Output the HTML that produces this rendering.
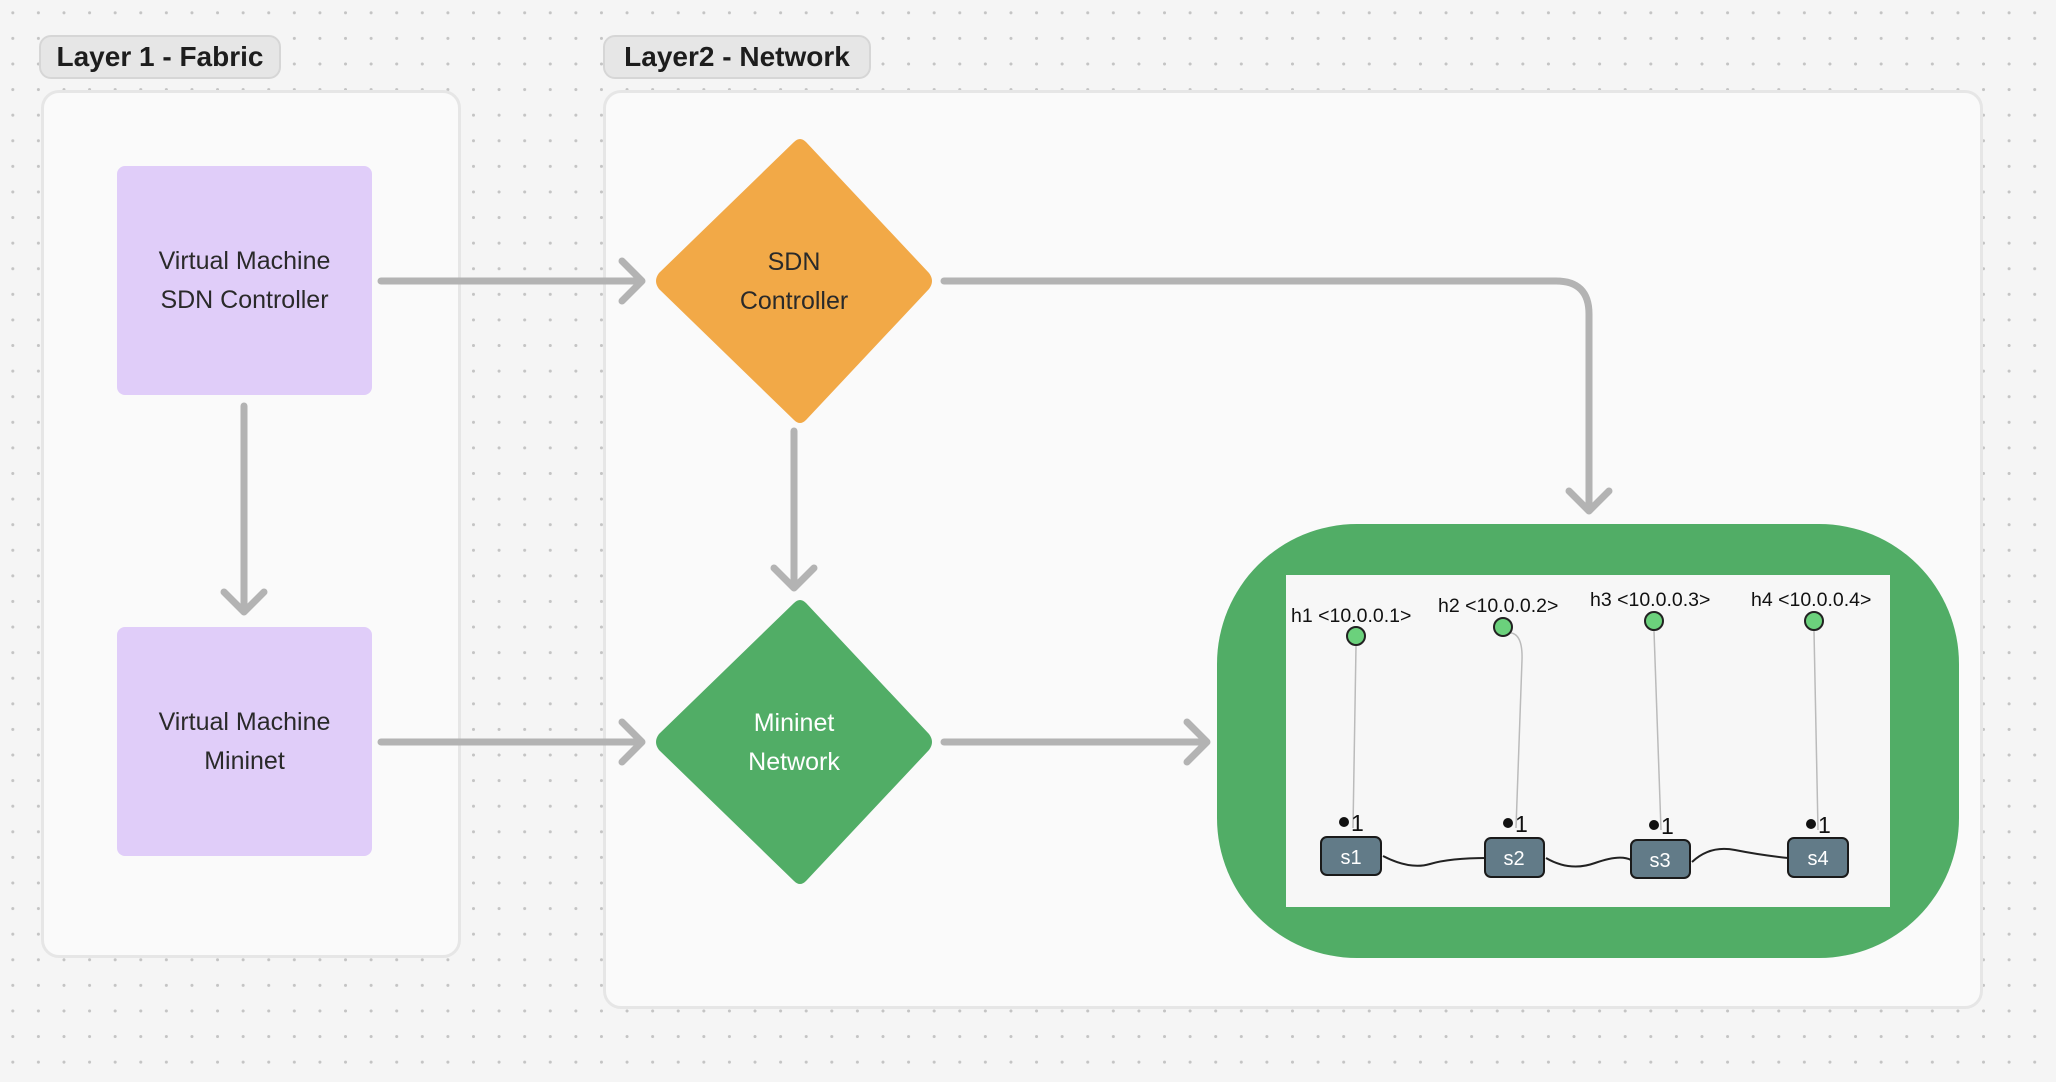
<!DOCTYPE html>
<html><head><meta charset="utf-8"><style>
html,body{margin:0;padding:0}
body{width:2056px;height:1082px;overflow:hidden;background-color:#f5f5f5;
background-image:radial-gradient(circle,#c4c4c4 1.4px,transparent 1.6px);background-size:25.6px 25.6px;background-position:0px 0px;
font-family:"Liberation Sans",sans-serif;position:relative}
.abs{position:absolute}
.lbl{position:absolute;background:#e6e6e6;border:2px solid #d6d6d6;border-radius:12px;font-weight:bold;font-size:28px;color:#1d1d1d;box-sizing:border-box;display:flex;align-items:center;justify-content:center}
.cont{position:absolute;background:#fafafa;border:3px solid #e6e6e6;border-radius:18px;box-sizing:border-box}
.box{position:absolute;background:#e0cdf9;border-radius:8px;display:flex;align-items:center;justify-content:center;text-align:center;font-size:25px;line-height:39px;color:#2a2a2a}
</style></head><body>
<div class="cont" style="left:41px;top:90px;width:420px;height:868px"></div>
<div class="cont" style="left:603px;top:90px;width:1380px;height:919px"></div>
<div class="lbl" style="left:39px;top:35px;width:242px;height:44px">Layer 1 - Fabric</div>
<div class="lbl" style="left:603px;top:35px;width:268px;height:44px">Layer2 - Network</div>
<div class="box" style="left:117px;top:166px;width:255px;height:229px">Virtual Machine<br>SDN Controller</div>
<div class="box" style="left:117px;top:627px;width:255px;height:229px">Virtual Machine<br>Mininet</div>
<svg class="abs" style="left:0;top:0" width="2056" height="1082">
<g stroke="#b3b3b3" stroke-width="7" fill="none" stroke-linecap="round" stroke-linejoin="round">
<path d="M381 281H640M622 261L642 281L622 301"/>
<path d="M244 406V612M224 592L244 612L264 592"/>
<path d="M381 742H640M622 722L642 742L622 762"/>
<path d="M794 431V588M774 568L794 588L814 568"/>
<path d="M944 281H1556Q1589 281 1589 314V511M1569 491L1589 511L1609 491"/>
<path d="M944 742H1205M1187 722L1207 742L1187 762"/>
</g>
<path d="M794 142 Q800 136 806 142 L929 273 Q935 281 929 289 L806 420 Q800 426 794 420 L659 289 Q653 281 659 273 Z" fill="#f2a947"/>
<path d="M794 603 Q800 597 806 603 L929 734 Q935 742 929 750 L806 881 Q800 887 794 881 L659 750 Q653 742 659 734 Z" fill="#51ad66"/>
<text x="794" y="270" font-size="25" text-anchor="middle" fill="#2a2a2a" font-family="Liberation Sans">SDN</text>
<text x="794" y="309" font-size="25" text-anchor="middle" fill="#2a2a2a" font-family="Liberation Sans">Controller</text>
<text x="794" y="731" font-size="25" text-anchor="middle" fill="#fff" font-family="Liberation Sans">Mininet</text>
<text x="794" y="770" font-size="25" text-anchor="middle" fill="#fff" font-family="Liberation Sans">Network</text>
<rect x="1217" y="524" width="742" height="434" rx="140" fill="#51ad66"/>
<rect x="1286" y="575" width="604" height="332" fill="#f7f7f7"/>
<g stroke="#bbb" stroke-width="1.5" fill="none">
<path d="M1356 646L1353 828"/>
<path d="M1506 633Q1523 630 1522 660L1516 828"/>
<path d="M1654 631L1661 830"/>
<path d="M1814 631L1818 830"/>
</g>
<g stroke="#222" stroke-width="2" fill="none">
<path d="M1383 856Q1410 870 1430 864T1487 858"/>
<path d="M1546 858Q1570 872 1595 863T1631 860"/>
<path d="M1692 862Q1710 845 1735 850T1788 858"/>
</g>
<g fill="#6bd17c" stroke="#222" stroke-width="2">
<ellipse cx="1356" cy="636" rx="9" ry="9"/>
<ellipse cx="1503" cy="627" rx="9" ry="9"/>
<ellipse cx="1654" cy="621" rx="9" ry="9"/>
<ellipse cx="1814" cy="621" rx="9" ry="9"/>
</g>
<g font-family="Liberation Sans" font-size="19.5" fill="#111">
<text x="1291" y="622">h1 &lt;10.0.0.1&gt;</text>
<text x="1438" y="612">h2 &lt;10.0.0.2&gt;</text>
<text x="1590" y="606">h3 &lt;10.0.0.3&gt;</text>
<text x="1751" y="606">h4 &lt;10.0.0.4&gt;</text>
</g>
<g fill="#111">
<circle cx="1344" cy="822" r="5"/><circle cx="1508" cy="823" r="5"/><circle cx="1654" cy="825" r="5"/><circle cx="1811" cy="824" r="5"/>
</g>
<g font-family="Liberation Sans" font-size="23" fill="#111">
<text x="1351" y="831">1</text>
<text x="1515" y="832">1</text>
<text x="1661" y="834">1</text>
<text x="1818" y="833">1</text>
</g>
<g fill="#627b88" stroke="#1a1a1a" stroke-width="2">
<rect x="1321" y="837" width="60" height="38" rx="6"/>
<rect x="1485" y="838" width="59" height="39" rx="6"/>
<rect x="1631" y="840" width="59" height="38" rx="6"/>
<rect x="1788" y="838" width="60" height="39" rx="6"/>
</g>
<g font-family="Liberation Sans" font-size="20" fill="#fff" text-anchor="middle">
<text x="1351" y="864">s1</text>
<text x="1514" y="865">s2</text>
<text x="1660" y="867">s3</text>
<text x="1818" y="865">s4</text>
</g>
</svg>
</body></html>
